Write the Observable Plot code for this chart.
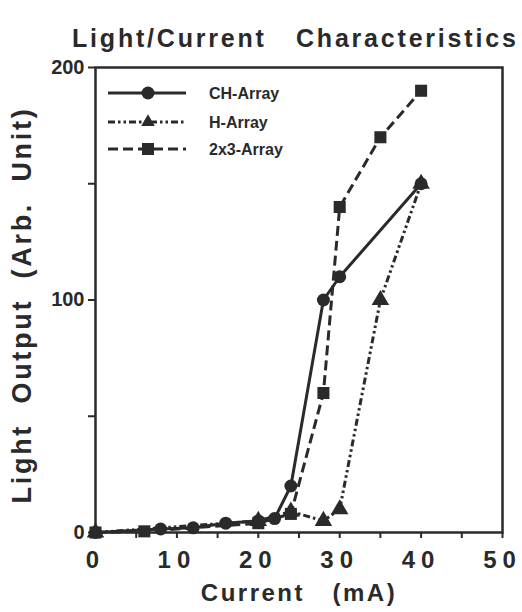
<!DOCTYPE html>
<html>
<head>
<meta charset="utf-8">
<script src="https://cdn.jsdelivr.net/npm/d3@7"></script>
<script src="https://cdn.jsdelivr.net/npm/@observablehq/plot@0.6"></script>
<style>
  html, body { margin: 0; padding: 0; background: #fff; width: 522px; height: 612px; overflow: hidden; }
  #title { position: absolute; left: 0; top: 0; width: 522px; height: 50px; box-sizing: border-box; padding-left: 72px; padding-top: 26px;
    font-family: "Liberation Sans", Arial, sans-serif; font-weight: bold; font-size: 25px;
    letter-spacing: 2.8px; white-space: pre; color: #2a2a2a; line-height: 24px; overflow: visible; z-index: 2; }
  #chart { position: absolute; left: 0; top: 50px; }
  g[aria-label="x-axis tick label"] text { letter-spacing: 6px; }
</style>
</head>
<body>
<div id="title">Light/Current   Characteristics</div>
<div id="chart"></div>
<script>
const seriesNames = ["CH-Array", "H-Array", "2x3-Array"];
const chX  = [0, 8, 12, 16, 20, 22, 24, 28, 30, 40];
const chY  = [0, 1.5, 2, 4, 5, 6, 20, 100, 110, 150];
const hX   = [0, 20, 24, 28, 30, 35, 40];
const hY   = [0, 5, 9, 5, 10, 100, 150];
const sqX  = [0, 6, 20, 24, 28, 30, 35, 40];
const sqY  = [0, 0.5, 4, 8, 60, 140, 170, 190];
const xTicks = [0, 5, 10, 15, 20, 25, 30, 35, 40, 45, 50];
const xTickLabels = ["0", "", "10", "", "20", "", "30", "", "40", "", "50"];
const yTicks = [0, 50, 100, 150, 200];
const yTickLabels = ["0", "", "100", "", "200"];

const ink = "#2a2a2a";
const styles = {
  "CH-Array": {dash: null, symbol: "circle", r: 6.5},
  "H-Array": {dash: "7,3,2.5,3,2.5,3", symbol: "triangle", r: 6.5},
  "2x3-Array": {dash: "10,5", symbol: "square", r: 6.8}
};
const toRows = (name, xs, ys) => xs.map((x, i) => ({series: name, x, y: ys[i]}));
const data = [
  toRows("CH-Array", chX, chY),
  toRows("H-Array", hX, hY),
  toRows("2x3-Array", sqX, sqY)
];

const font = "'Liberation Sans', Arial, Helvetica, sans-serif";
const marks = [];
data.forEach((rows, i) => {
  const st = styles[seriesNames[i]];
  marks.push(Plot.line(rows, {x: "x", y: "y", stroke: ink, strokeWidth: 3, strokeDasharray: st.dash, strokeLinecap: "butt"}));
});
[1, 2, 0].forEach(i => {
  const st = styles[seriesNames[i]];
  marks.push(Plot.dot(data[i], {x: "x", y: "y", symbol: () => st.symbol, r: st.r, fill: ink, stroke: "none"}));
});

const plot = Plot.plot({
  width: 522,
  height: 562,
  marginTop: 17,
  marginBottom: 80,
  marginLeft: 95,
  marginRight: 20,
  style: {fontFamily: font, background: "transparent", overflow: "visible", color: ink},
  x: {domain: [0, 50]},
  y: {domain: [0, 200]},
  symbol: {type: "identity"},
  marks: [
    Plot.axisX({ticks: xTicks, tickSize: 6, tickPadding: 12, tickFormat: d => xTickLabels[xTicks.indexOf(d)],
      fontSize: 24, fontWeight: "bold", strokeWidth: 2, label: null}),
    Plot.axisY({ticks: yTicks, tickSize: 7, tickPadding: 4, tickFormat: d => yTickLabels[yTicks.indexOf(d)],
      fontSize: 20, fontWeight: "bold", strokeWidth: 2, label: null}),
    Plot.frame({stroke: ink, strokeWidth: 2.5}),
    ...marks,
    Plot.text(["Current   (mA)"], {frameAnchor: "bottom", dy: 68, fontSize: 24, fontWeight: "bold", fill: ink,
      textAnchor: "middle"}),
    Plot.text(["Light  Output  (Arb.  Unit)"], {frameAnchor: "left", dx: -73, dy: 5, rotate: -90, fontSize: 27,
      fontWeight: "bold", fill: ink, textAnchor: "middle"})
  ]
});
document.getElementById("chart").appendChild(plot);
d3.select(plot).selectAll("text").filter(function() { return this.textContent === "Current   (mA)"; })
  .style("letter-spacing", "2.5px").style("white-space", "pre");
d3.select(plot).selectAll("text").filter(function() { return this.textContent.startsWith("Light"); })
  .style("letter-spacing", "2.7px").style("white-space", "pre");

// Legend
const svg = d3.select(plot);
const lg = svg.append("g").attr("class", "legend");
const legY = [43, 72, 99];
seriesNames.forEach((name, i) => {
  const st = styles[name];
  const y = legY[i];
  lg.append("line").attr("x1", 108).attr("x2", 186).attr("y1", y).attr("y2", y)
    .attr("stroke", ink).attr("stroke-width", 3).attr("stroke-dasharray", st.dash);
  const sym = {circle: d3.symbolCircle, triangle: d3.symbolTriangle2, square: d3.symbolSquare}[st.symbol];
  lg.append("path").attr("transform", `translate(148,${y})`)
    .attr("d", d3.symbol(sym, Math.PI * st.r * st.r)()).attr("fill", ink);
  lg.append("text").attr("x", 209).attr("y", y + 6).text(name).attr("text-anchor", "start")
    .attr("font-family", font).attr("font-weight", "bold").attr("font-size", 16).attr("fill", ink);
});
</script>
</body>
</html>
